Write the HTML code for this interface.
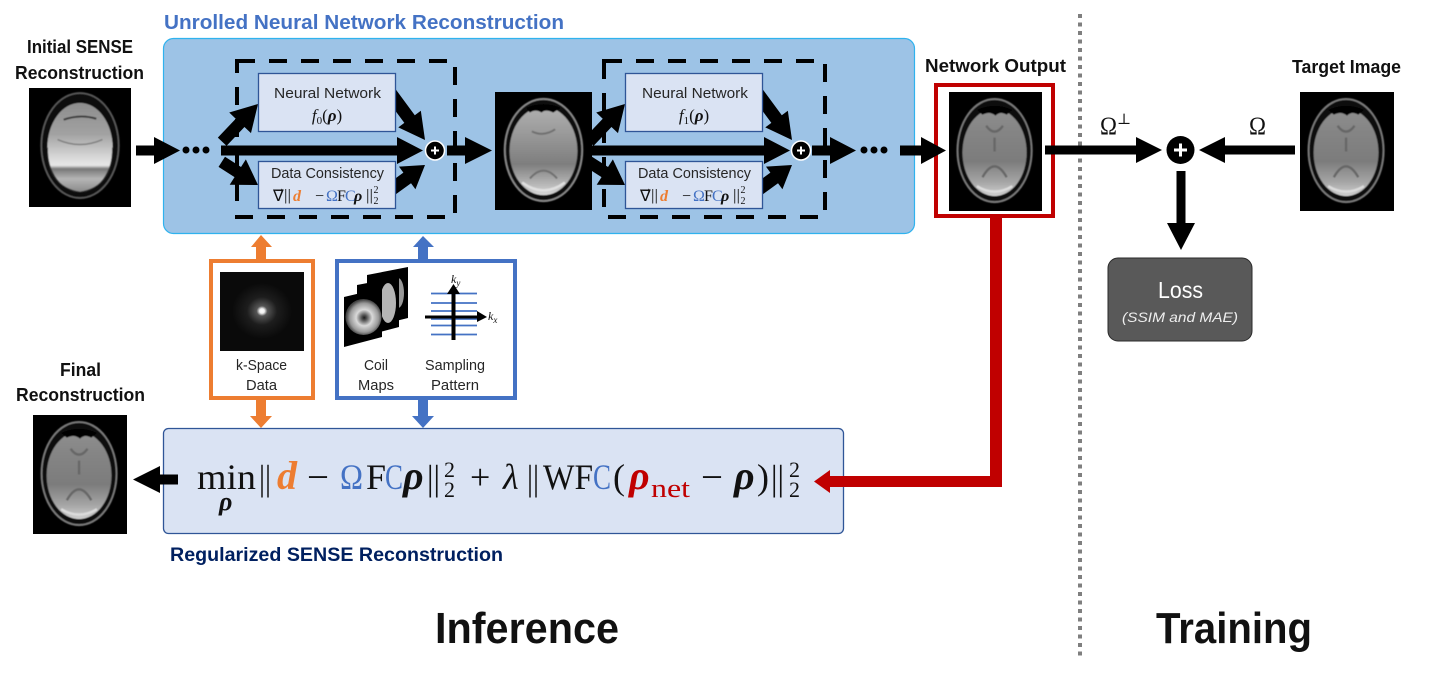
<!DOCTYPE html>
<html>
<head>
<meta charset="utf-8">
<style>
html,body{margin:0;padding:0;background:#fff;width:1430px;height:684px;overflow:hidden}
svg{display:block}
text{font-family:"Liberation Sans","DejaVu Sans",sans-serif}
.b{font-weight:700;fill:#111}
.s{fill:#262626;font-size:15px}
.m{font-family:"Liberation Serif","DejaVu Serif",serif;fill:#111}
.bi{font-weight:700;font-style:italic}
</style>
</head>
<body>
<svg width="1430" height="684" viewBox="0 0 1430 684" xmlns="http://www.w3.org/2000/svg">
<defs>
<linearGradient id="gA" x1="0" y1="0" x2="0" y2="1"><stop offset="0" stop-color="#8d8d8d"/><stop offset=".35" stop-color="#a2a2a2"/><stop offset=".62" stop-color="#dadada"/><stop offset=".7" stop-color="#e6e6e6"/><stop offset=".74" stop-color="#777"/><stop offset=".85" stop-color="#b5b5b5"/><stop offset="1" stop-color="#8a8a8a"/></linearGradient>
<linearGradient id="gB" x1="0" y1="0" x2="0" y2="1"><stop offset="0" stop-color="#8f8f8f"/><stop offset=".25" stop-color="#858585"/><stop offset=".6" stop-color="#7c7c7c"/><stop offset=".85" stop-color="#a8a8a8"/><stop offset="1" stop-color="#d0d0d0"/></linearGradient>
<linearGradient id="gC" x1="0" y1="0" x2="0" y2="1"><stop offset="0" stop-color="#b0b0b0"/><stop offset=".3" stop-color="#9a9a9a"/><stop offset=".65" stop-color="#7e7e7e"/><stop offset=".88" stop-color="#b8b8b8"/><stop offset="1" stop-color="#d8d8d8"/></linearGradient>
<radialGradient id="gk" cx="50%" cy="50%" r="50%"><stop offset="0" stop-color="#fff"/><stop offset=".08" stop-color="#f0f0f0"/><stop offset=".18" stop-color="#555"/><stop offset=".5" stop-color="#1d1d1d"/><stop offset="1" stop-color="#0a0a0a"/></radialGradient>
<radialGradient id="gc" cx="52%" cy="52%" r="50%"><stop offset="0" stop-color="#1c1c1c"/><stop offset=".15" stop-color="#555"/><stop offset=".45" stop-color="#d9d9d9"/><stop offset=".8" stop-color="#999"/><stop offset="1" stop-color="#444"/></radialGradient>
<filter id="bl" x="-5%" y="-5%" width="110%" height="110%"><feGaussianBlur stdDeviation=".6"/></filter>
<symbol id="brainA" viewBox="0 0 100 120" preserveAspectRatio="none">
<rect width="100" height="120" fill="#000"/>
<g filter="url(#bl)">
<ellipse cx="50" cy="58" rx="38" ry="53" fill="#0c0c0c" stroke="#5a5a5a" stroke-width="1.800"/>
<ellipse cx="50" cy="60" rx="32" ry="45" fill="url(#gA)"/>
<path d="M34 32Q50 26 66 31" stroke="#3e3e3e" stroke-width="2" fill="none"/>
<path d="M28 52Q50 62 72 52" stroke="#808080" stroke-width="1.500" fill="none"/>
<path d="M18 60Q18 100 50 105Q82 100 82 60" stroke="#2a2a2a" stroke-width="1" fill="none"/>
</g>
</symbol>
<symbol id="brainB" viewBox="0 0 100 120" preserveAspectRatio="none">
<rect width="100" height="120" fill="#000"/>
<g filter="url(#bl)">
<ellipse cx="49" cy="59" rx="40" ry="52" fill="#0d0d0d" stroke="#7c7c7c" stroke-width="2"/>
<ellipse cx="49" cy="61" rx="34.500" ry="44" fill="url(#gB)"/>
<path d="M30 18Q49 10 68 18L62 23Q55 19 50 24Q44 19 36 23Z" fill="#000"/>
<path d="M40 34Q49 46 58 34M49 46V60M36 86Q49 64 62 86" stroke="#666" stroke-width="2.500" fill="none"/>
<path d="M30 95Q49 106 68 95" stroke="#dcdcdc" stroke-width="2.500" fill="none"/>
</g>
</symbol>
<symbol id="brainC" viewBox="0 0 100 120" preserveAspectRatio="none">
<rect width="100" height="120" fill="#000"/>
<g filter="url(#bl)">
<ellipse cx="50" cy="59" rx="40" ry="52" fill="#0d0d0d" stroke="#8a8a8a" stroke-width="2"/>
<ellipse cx="50" cy="60" rx="35" ry="45" fill="url(#gC)"/>
<path d="M32 16Q50 9 68 16L60 21Q52 17 48 21Q42 17 36 21Z" fill="#000"/>
<path d="M38 40Q50 46 62 38M36 88Q50 72 64 88" stroke="#707070" stroke-width="2" fill="none"/>
<path d="M28 92Q50 108 72 92" stroke="#e0e0e0" stroke-width="2.500" fill="none"/>
</g>
</symbol>
<g id="blk">
<path d="M221 145.500H397V137L423 150.500L397 164V155.500H221Z"/>
<g transform="translate(258 104) rotate(-46.500)"><polygon points="-52,-6 -26,-6 -26,-15 0,0 -26,15 -26,6 -52,6"/></g>
<g transform="translate(258 185) rotate(32.600)"><polygon points="-43,-6 -24,-6 -24,-15 0,0 -24,15 -24,6 -43,6"/></g>
<g transform="translate(425 140) rotate(53.600)"><polygon points="-60,-6.500 -26,-6.500 -26,-14 0,0 -26,14 -26,6.500 -60,6.500"/></g>
<g transform="translate(425 165) rotate(-36)"><polygon points="-50,-6.500 -22,-6.500 -22,-14 0,0 -22,14 -22,6.500 -50,6.500"/></g>
</g>
</defs>

<!-- top panel -->
<rect x="163.500" y="38.500" width="751" height="195" rx="10" fill="#9dc3e6" stroke="#2fb2ee" stroke-width="1.200"/>
<text x="164" y="29" class="b" style="fill:#4472c4" font-size="20.500" textLength="400" lengthAdjust="spacingAndGlyphs">Unrolled Neural Network Reconstruction</text>

<!-- dashed -->
<rect x="237" y="61" width="218" height="156" fill="none" stroke="#000" stroke-width="4" stroke-dasharray="18 14"/>
<rect x="604" y="61" width="221" height="156" fill="none" stroke="#000" stroke-width="4" stroke-dasharray="18 14"/>

<!-- images -->
<use href="#brainA" x="29" y="88" width="102" height="119"/>
<use href="#brainC" x="495" y="92" width="97" height="118"/>
<rect x="936" y="85" width="117" height="131" fill="#fff" stroke="#c00000" stroke-width="4"/>
<use href="#brainB" x="949" y="92" width="93" height="119"/>
<use href="#brainB" x="1300" y="92" width="94" height="119"/>
<use href="#brainB" x="33" y="415" width="94" height="119"/>

<!-- arrows in blocks -->
<use href="#blk"/>
<use href="#blk" x="367"/>

<!-- inner boxes -->
<g fill="#dae3f3" stroke="#2f5597" stroke-width="1.300">
<rect x="258.500" y="73.500" width="137" height="58"/>
<rect x="258.500" y="161.500" width="137" height="47"/>
<rect x="625.500" y="73.500" width="137" height="58"/>
<rect x="625.500" y="161.500" width="137" height="47"/>
</g>

<!-- box 1 text -->
<text x="274" y="98" class="s" textLength="107" lengthAdjust="spacingAndGlyphs">Neural Network</text>
<text x="327" y="121" class="m" font-size="17" text-anchor="middle"><tspan font-style="italic">f</tspan><tspan font-size="11" dy="3">0</tspan><tspan dy="-3">(</tspan><tspan class="bi">ρ</tspan>)</text>
<text x="271" y="178" class="s" textLength="113" lengthAdjust="spacingAndGlyphs">Data Consistency</text>
<g font-size="16">
<text x="273" y="201" class="m">∇⃗</text><text x="284" y="200" class="m" textLength="7" lengthAdjust="spacingAndGlyphs">||</text>
<text x="293" y="201" class="m bi" style="fill:#ed7d31">d</text>
<text x="315" y="201" class="m">−</text>
<text x="326" y="201" class="m" style="fill:#4472c4">Ω</text>
<text x="337" y="201" class="m">F</text><text x="345" y="201" class="m" style="fill:#4472c4">C</text>
<text x="354" y="201" class="m bi">ρ</text><text x="366" y="200" class="m" textLength="7" lengthAdjust="spacingAndGlyphs">||</text>
<text x="373.500" y="193" class="m" font-size="10">2</text><text x="373.500" y="204" class="m" font-size="10">2</text>
</g>

<!-- box 2 text -->
<text x="642" y="98" class="s" textLength="106" lengthAdjust="spacingAndGlyphs">Neural Network</text>
<text x="694" y="121" class="m" font-size="17" text-anchor="middle"><tspan font-style="italic">f</tspan><tspan font-size="11" dy="3">1</tspan><tspan dy="-3">(</tspan><tspan class="bi">ρ</tspan>)</text>
<text x="638" y="178" class="s" textLength="113" lengthAdjust="spacingAndGlyphs">Data Consistency</text>
<g font-size="16">
<text x="640" y="201" class="m">∇⃗</text><text x="651" y="200" class="m" textLength="7" lengthAdjust="spacingAndGlyphs">||</text>
<text x="660" y="201" class="m bi" style="fill:#ed7d31">d</text>
<text x="682" y="201" class="m">−</text>
<text x="693" y="201" class="m" style="fill:#4472c4">Ω</text>
<text x="704" y="201" class="m">F</text><text x="712" y="201" class="m" style="fill:#4472c4">C</text>
<text x="721" y="201" class="m bi">ρ</text><text x="733" y="200" class="m" textLength="7" lengthAdjust="spacingAndGlyphs">||</text>
<text x="740.500" y="193" class="m" font-size="10">2</text><text x="740.500" y="204" class="m" font-size="10">2</text>
</g>

<!-- pluses -->
<g stroke="#fff" stroke-width="1.500"><circle cx="435" cy="150.500" r="9.500"/><circle cx="801" cy="150.500" r="9.500"/></g>
<path d="M431 150.500H439M435 146.500V154.500M797 150.500H805M801 146.500V154.500" stroke="#fff" stroke-width="2"/>

<!-- horizontal arrows top -->
<path d="M136 145.500H154V137L180 150.500L154 164V155.500H136Z"/>
<g><circle cx="186" cy="150" r="3.500"/><circle cx="196" cy="150" r="3.500"/><circle cx="206" cy="150" r="3.500"/></g>
<path d="M447 145.500H465V137L492 150.500L465 164V155.500H447Z"/>
<path d="M812 145.500H830V137L856 150.500L830 164V155.500H812Z"/>
<g><circle cx="864" cy="150" r="3.500"/><circle cx="874" cy="150" r="3.500"/><circle cx="884" cy="150" r="3.500"/></g>
<path d="M900 145.500H921V137L946 150.500L921 164V155.500H900Z"/>

<!-- labels -->
<text x="27" y="53" class="b" font-size="18" textLength="106" lengthAdjust="spacingAndGlyphs">Initial SENSE</text>
<text x="15" y="79" class="b" font-size="18" textLength="129" lengthAdjust="spacingAndGlyphs">Reconstruction</text>
<text x="925" y="72" class="b" font-size="18" textLength="141" lengthAdjust="spacingAndGlyphs">Network Output</text>
<text x="1292" y="73" class="b" font-size="18" textLength="109" lengthAdjust="spacingAndGlyphs">Target Image</text>
<text x="60" y="376" class="b" font-size="18" textLength="41" lengthAdjust="spacingAndGlyphs">Final</text>
<text x="16" y="401" class="b" font-size="18" textLength="129" lengthAdjust="spacingAndGlyphs">Reconstruction</text>

<!-- orange/blue connectors -->
<g fill="#ed7d31">
<path d="M256 259V247H251L261 235L272 247H266V259Z"/>
<path d="M256 399V416H250L261 428L272 416H266V399Z"/>
</g>
<g fill="#4472c4">
<path d="M418 259V247H413L423 236L434 247H428V259Z"/>
<path d="M418 399V416H412L423 428L434 416H428V399Z"/>
</g>

<!-- orange box -->
<rect x="211" y="261" width="102" height="137" fill="#fff" stroke="#ed7d31" stroke-width="4"/>
<rect x="220" y="272" width="84" height="79" fill="#0a0a0a"/>
<ellipse cx="262" cy="311" rx="30" ry="28" fill="url(#gk)"/>
<text x="236" y="370" class="s" textLength="51" lengthAdjust="spacingAndGlyphs">k-Space</text>
<text x="246" y="390" class="s" textLength="31" lengthAdjust="spacingAndGlyphs">Data</text>

<!-- blue box -->
<rect x="337" y="261" width="178" height="137" fill="#fff" stroke="#4472c4" stroke-width="4"/>
<polygon points="367,275 408,267 408,318 367,328" fill="#000"/>
<ellipse cx="398" cy="293" rx="6" ry="15" fill="#999"/>
<polygon points="357,285 399,277 399,327 357,338" fill="#000"/>
<ellipse cx="388" cy="303" rx="8" ry="20" fill="#b5b5b5"/>
<polygon points="344,297 382,288 382,337 344,347" fill="#000"/>
<ellipse cx="363.500" cy="317" rx="18" ry="18" fill="url(#gc)"/>
<g stroke="#4472c4" stroke-width="1.800">
<path d="M431 293.500H477M431 303H477M431 311H477M431 319H477M431 325.500H477M431 334.500H477"/>
</g>
<path d="M451.500 340V294H447L453.500 284L460 294H455.500V340Z"/>
<path d="M425 315.500H477V311L487 317L477 322V318.500H425Z"/>
<text x="451" y="283" class="m" font-size="12" font-style="italic">k<tspan font-size="9" dy="3">y</tspan></text>
<text x="488" y="320" class="m" font-size="12" font-style="italic">k<tspan font-size="9" dy="3">x</tspan></text>
<text x="364" y="370" class="s" textLength="24" lengthAdjust="spacingAndGlyphs">Coil</text>
<text x="358" y="390" class="s" textLength="36" lengthAdjust="spacingAndGlyphs">Maps</text>
<text x="425" y="370" class="s" textLength="60" lengthAdjust="spacingAndGlyphs">Sampling</text>
<text x="431" y="390" class="s" textLength="48" lengthAdjust="spacingAndGlyphs">Pattern</text>

<!-- equation box -->
<rect x="163.500" y="428.500" width="680" height="105" rx="5" fill="#dae3f3" stroke="#2f5597" stroke-width="1.300"/>
<path d="M178 474.500H160V466L133 479.500L160 493V484.500H178Z"/>

<!-- red connector -->
<path d="M990 216H1002V487H830V493L814 481.500L830 470V476H990Z" fill="#c00000"/>

<g font-size="36">
<text x="197" y="489" class="m" textLength="59" lengthAdjust="spacingAndGlyphs">min</text>
<text x="219" y="510" class="m bi" font-size="26">ρ</text>
<text x="259" y="490" class="m" textLength="12" lengthAdjust="spacingAndGlyphs">||</text>
<text x="277" y="489" class="m bi" style="fill:#ed7d31" font-size="40">d</text>
<text x="307" y="489" class="m" textLength="22" lengthAdjust="spacingAndGlyphs">−</text>
<text x="340" y="489" class="m" style="fill:#4472c4" textLength="23" lengthAdjust="spacingAndGlyphs">Ω</text>
<text x="366" y="489" class="m">F</text>
<text x="385" y="489" class="m" style="fill:#4472c4" textLength="18" lengthAdjust="spacingAndGlyphs">C</text>
<text x="403" y="489" class="m bi" font-size="40">ρ</text>
<text x="427" y="490" class="m" textLength="13" lengthAdjust="spacingAndGlyphs">||</text>
<text x="444" y="477" class="m" font-size="22">2</text>
<text x="444" y="497" class="m" font-size="22">2</text>
<text x="470" y="489" class="m">+</text>
<text x="503" y="489" class="m" font-style="italic">λ</text>
<text x="527" y="490" class="m" textLength="12" lengthAdjust="spacingAndGlyphs">||</text>
<text x="543" y="489" class="m" textLength="50" lengthAdjust="spacingAndGlyphs">WF</text>
<text x="593" y="489" class="m" style="fill:#4472c4" textLength="18" lengthAdjust="spacingAndGlyphs">C</text>
<text x="613" y="489" class="m">(</text>
<text x="629" y="489" class="m bi" style="fill:#c00000" font-size="40">ρ</text>
<text x="651" y="497" class="m" font-size="26" style="fill:#c00000" textLength="39" lengthAdjust="spacingAndGlyphs">net</text>
<text x="701" y="489" class="m" textLength="22" lengthAdjust="spacingAndGlyphs">−</text>
<text x="734" y="489" class="m bi" font-size="40">ρ</text>
<text x="757" y="489" class="m">)</text>
<text x="771" y="490" class="m" textLength="13" lengthAdjust="spacingAndGlyphs">||</text>
<text x="789" y="477" class="m" font-size="22">2</text>
<text x="789" y="497" class="m" font-size="22">2</text>
</g>
<text x="170" y="561" class="b" style="fill:#002060" font-size="19.500" textLength="333" lengthAdjust="spacingAndGlyphs">Regularized SENSE Reconstruction</text>

<!-- separator -->
<line x1="1080" y1="14" x2="1080" y2="658" stroke="#7f7f7f" stroke-width="4" stroke-dasharray="4 4.500"/>

<!-- training -->
<path d="M1045 145.500H1136V137L1162 150L1136 163V154.500H1045Z"/>
<circle cx="1180.500" cy="150" r="14"/>
<path d="M1174 150H1187M1180.500 143.500V156.500" stroke="#fff" stroke-width="3"/>
<path d="M1295 145.500H1225V137L1199 150L1225 163V154.500H1295Z"/>
<path d="M1176.500 171H1185.500V223H1195L1181 250L1167 223H1176.500Z"/>
<text x="1100" y="134" class="m" font-size="25" textLength="17" lengthAdjust="spacingAndGlyphs">Ω</text>
<text x="1117" y="124" class="m" font-size="15">⊥</text>
<text x="1249" y="134" class="m" font-size="25" textLength="17" lengthAdjust="spacingAndGlyphs">Ω</text>
<rect x="1108" y="258" width="144" height="83" rx="10" fill="#595959" stroke="#2a2a2a" stroke-width="1"/>
<text x="1158" y="298" fill="#fff" font-size="23" textLength="45" lengthAdjust="spacingAndGlyphs">Loss</text>
<text x="1122" y="322" fill="#eee" font-size="14" font-style="italic" textLength="116" lengthAdjust="spacingAndGlyphs">(SSIM and MAE)</text>

<!-- headings -->
<text x="435" y="643" class="b" font-size="44" textLength="184" lengthAdjust="spacingAndGlyphs">Inference</text>
<text x="1156" y="643" class="b" font-size="44" textLength="156" lengthAdjust="spacingAndGlyphs">Training</text>
</svg>
</body>
</html>
